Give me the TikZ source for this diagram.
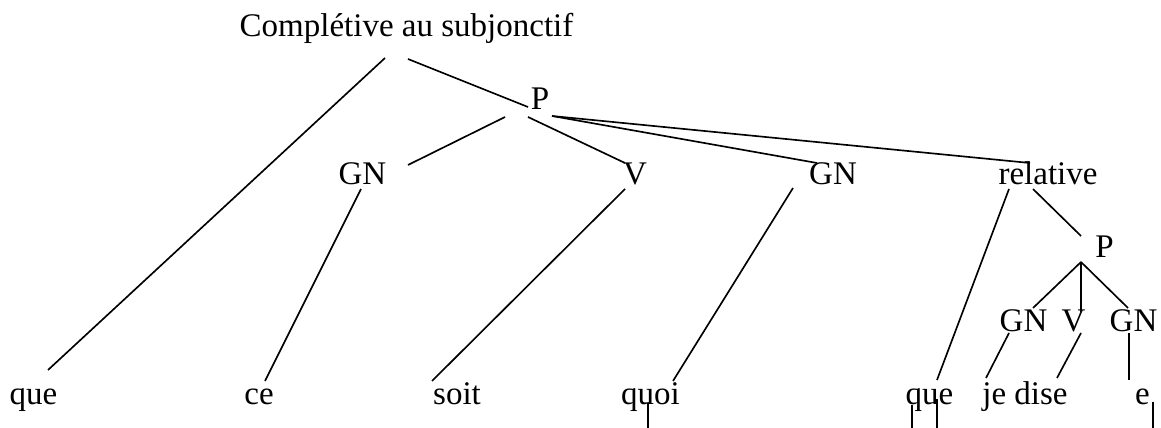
\documentclass[tikz,border=0pt]{standalone}
\usepackage{fontspec}
\setmainfont{Liberation Serif}
\usepackage{tikz}
\usetikzlibrary{calc}
\tikzset{
  lbl/.style={inner sep=0pt,anchor=base,font=\fontsize{12}{14}\selectfont},
  br/.style ={line width=0.6pt,black},
}

\begin{document}
\begin{tikzpicture}[x=0.363636pt,y=-0.363636pt]
    \useasboundingbox (0,0) rectangle (1161,428);
    % labels
    \node[lbl] (comp) at (406.5,37) {Complétive au subjonctif};
    \node[lbl] (pA)   at (540,110)  {P};
    \node[lbl] (gnA)  at (362.5,185) {GN};
    \node[lbl] (vA)   at (635,185)  {V};
    \node[lbl] (gnB)  at (833,185)  {GN};
    \node[lbl] (rel)  at (1048,185) {relative};
    \node[lbl] (pB)   at (1104.5,258) {P};
    \node[lbl] (gnC)  at (1023.5,332) {GN};
    \node[lbl] (vB)   at (1073.5,332) {V};
    \node[lbl] (gnD)  at (1133.5,332) {GN};
    % words
    \node[lbl] (que)  at (33.5,405)  {que};
    \node[lbl] (ce)   at (259,405)   {ce};
    \node[lbl] (soit) at (457,405)   {soit};
    \node[lbl] (quoi) at (650.5,405) {quoi};
    \node[lbl] (queB) at (929.5,405) {que};
    \node[lbl] (dise) at (1025,405)  {je dise};
    \node[lbl] (e)    at (1142.5,405) {e};
    % branches
    \draw[br] ($(comp.base)+(-21.5,21)$) -- ($(que.base)+(14.5,-35)$);
    \draw[br] ($(comp.base)+(1.5,22)$) -- ($(pA.base)+(-12,-3)$);
    \draw[br] ($(pA.base)+(-35,7)$) -- ($(gnA.base)+(45.5,-20)$);
    \draw[br] ($(pA.base)+(-12,7)$) -- ($(vA.base)+(-10,-22)$);
    \draw[br] ($(pA.base)+(12,6)$) -- ($(gnB.base)+(-16,-22)$);
    \draw[br] ($(pA.base)+(12,6)$) -- ($(rel.base)+(-18,-22)$);
    \draw[br] ($(gnA.base)+(-1.5,4)$) -- ($(ce.base)+(6,-24)$);
    \draw[br] ($(vA.base)+(-10,4)$) -- ($(soit.base)+(-25,-24)$);
    \draw[br] ($(gnB.base)+(-40,3)$) -- ($(quoi.base)+(22.5,-24)$);
    \draw[br] ($(rel.base)+(-39,4)$) -- ($(queB.base)+(7.5,-25)$);
    \draw[br] ($(rel.base)+(-15,4)$) -- ($(pB.base)+(-23.5,-22)$);
    \draw[br] ($(pB.base)+(-23.5,4)$) -- ($(gnC.base)+(9.5,-24)$);
    \draw[br] ($(pB.base)+(-23.5,4)$) -- ($(vB.base)+(7.5,-20)$);
    \draw[br] ($(pB.base)+(-23.5,4)$) -- ($(gnD.base)+(-5.5,-24)$);
    \draw[br] ($(gnC.base)+(-14.5,1)$) -- ($(dise.base)+(-39,-27)$);
    \draw[br] ($(vB.base)+(7.5,1)$) -- ($(dise.base)+(32,-27)$);
    \draw[br] ($(gnD.base)+(-4.5,1)$) -- ($(e.base)+(-13.5,-25)$);
    % traces
    \draw[br] ($(quoi.base)+(-2.5,-2)$) -- ++(0,25);
    \draw[br] ($(queB.base)+(-17.5,0)$) -- ++(0,23);
    \draw[br] ($(queB.base)+(7.5,-6)$) -- ++(0,29);
    \draw[br] ($(e.base)+(10.5,-3)$) -- ++(0,26);
  \end{tikzpicture}
\end{document}
